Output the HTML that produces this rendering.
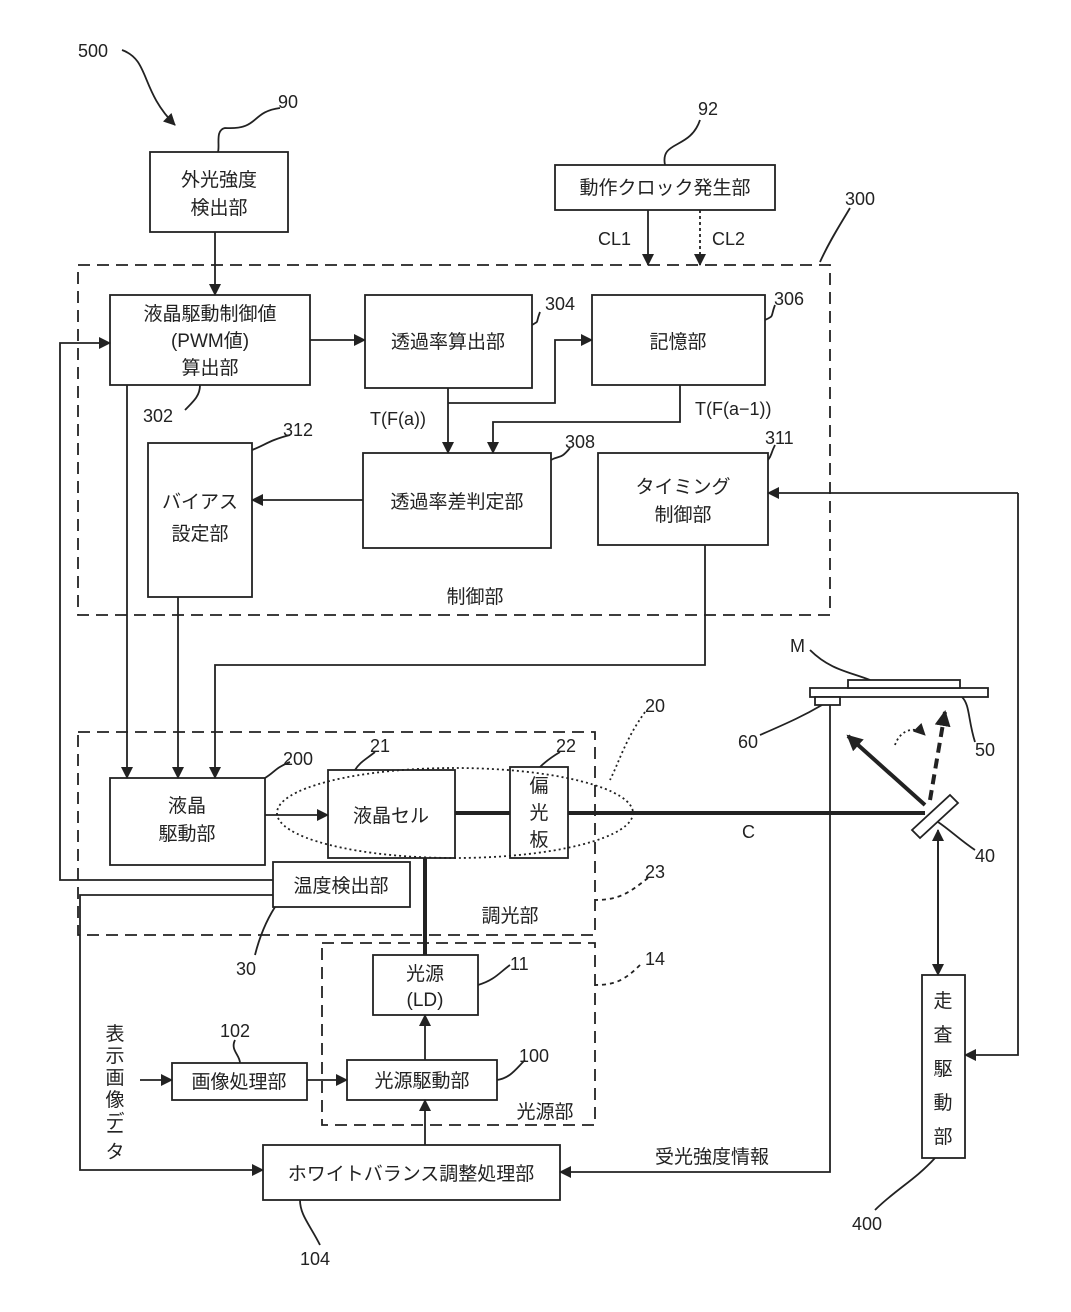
<!DOCTYPE html>
<html><head><meta charset="utf-8"><style>
body{margin:0;background:#fff}
svg text{font-family:"Liberation Sans","Noto Sans CJK JP",sans-serif;fill:#222}
</style></head><body>
<svg width="1071" height="1307" viewBox="0 0 1071 1307" xmlns="http://www.w3.org/2000/svg">
<defs>
<marker id="a" markerWidth="12" markerHeight="12" refX="11" refY="6" orient="auto" markerUnits="userSpaceOnUse"><path d="M0,0 L12,6 L0,12 z" fill="#222"/></marker>
<marker id="b" markerWidth="16" markerHeight="16" refX="14" refY="8" orient="auto" markerUnits="userSpaceOnUse"><path d="M0,0 L16,8 L0,16 z" fill="#222"/></marker>
</defs>
<g fill="none" stroke="#222" stroke-width="1.8">
<path d="M122,50 C150,60 140,90 175,125" marker-end="url(#a)"/>
<path d="M280,108 C250,112 260,130 225,128 C215,130 220,145 218,152"/>
<path d="M700,120 C690,150 660,140 665,165"/>
<path d="M850,208 C840,225 830,240 820,262"/>
<path d="M540,312 C535,325 540,320 532,325"/>
<path d="M775,305 C770,318 775,315 765,320"/>
<path d="M185,410 C195,400 200,395 200,385"/>
<path d="M570,448 C560,460 560,455 551,460"/>
<path d="M775,445 C770,455 772,455 768,460"/>
<path d="M290,435 C270,440 265,445 252,450"/>
<path d="M290,762 C275,768 275,772 265,778"/>
<path d="M375,752 C365,760 360,762 355,770"/>
<path d="M560,752 C550,758 545,762 540,767"/>
<path d="M645,712 C625,740 620,760 610,780" stroke-dasharray="2,3"/>
<path d="M648,878 C630,892 620,900 595,900" stroke-dasharray="4,4"/>
<path d="M255,955 C260,935 268,918 275,907"/>
<path d="M640,965 C625,980 615,985 595,985" stroke-dasharray="4,4"/>
<path d="M510,965 C500,972 495,980 478,985"/>
<path d="M525,1060 C515,1070 510,1078 497,1080"/>
<path d="M235,1040 C230,1050 240,1055 240,1063"/>
<path d="M320,1245 C310,1225 300,1215 300,1200"/>
<path d="M875,1210 C895,1190 915,1180 935,1158"/>
<path d="M810,650 C830,670 850,672 870,680"/>
<path d="M760,735 C790,722 805,715 822,705"/>
<path d="M975,742 C968,720 970,705 962,697"/>
<path d="M975,850 C960,840 950,830 938,822"/>
<rect x="78" y="265" width="752" height="350" stroke-dasharray="12,7"/>
<rect x="78" y="732" width="517" height="203" stroke-dasharray="12,7"/>
<rect x="322" y="943" width="273" height="182" stroke-dasharray="12,7"/>
<rect x="150" y="152" width="138" height="80"/>
<rect x="555" y="165" width="220" height="45"/>
<rect x="110" y="295" width="200" height="90"/>
<rect x="365" y="295" width="167" height="93"/>
<rect x="592" y="295" width="173" height="90"/>
<rect x="363" y="453" width="188" height="95"/>
<rect x="598" y="453" width="170" height="92"/>
<rect x="148" y="443" width="104" height="154"/>
<rect x="110" y="778" width="155" height="87"/>
<rect x="328" y="770" width="127" height="88"/>
<rect x="510" y="767" width="58" height="91"/>
<rect x="273" y="862" width="137" height="45"/>
<rect x="373" y="955" width="105" height="60"/>
<rect x="347" y="1060" width="150" height="40"/>
<rect x="172" y="1063" width="135" height="37"/>
<rect x="263" y="1145" width="297" height="55"/>
<rect x="922" y="975" width="43" height="183"/>
<ellipse cx="455" cy="813" rx="178" ry="45" stroke-dasharray="2,3"/>
<path d="M215,232 V295" marker-end="url(#a)"/>
<path d="M648,210 V265" marker-end="url(#a)"/>
<path d="M700,210 V265" stroke-dasharray="3,3" marker-end="url(#a)"/>
<path d="M310,340 H365" marker-end="url(#a)"/>
<path d="M448,388 V453" marker-end="url(#a)"/>
<path d="M448,403 H555 V340 H592" marker-end="url(#a)"/>
<path d="M680,385 V422 H493 V453" marker-end="url(#a)"/>
<path d="M363,500 H252" marker-end="url(#a)"/>
<path d="M1018,493 H768" marker-end="url(#a)"/>
<path d="M1018,493 V1055 H965" marker-end="url(#a)"/>
<path d="M705,545 V665 H215 V778" marker-end="url(#a)"/>
<path d="M178,597 V778" marker-end="url(#a)"/>
<path d="M127,385 V778" marker-end="url(#a)"/>
<path d="M273,880 H60 V343 H110" marker-end="url(#a)"/>
<path d="M273,895 H80 V1170 H263" marker-end="url(#a)"/>
<path d="M265,815 H328" marker-end="url(#a)"/>
<path d="M425,1060 V1015" marker-end="url(#a)"/>
<path d="M425,1145 V1100" marker-end="url(#a)"/>
<path d="M307,1080 H347" marker-end="url(#a)"/>
<path d="M140,1080 H172" marker-end="url(#a)"/>
<path d="M830,705 V1172 H560" marker-end="url(#a)"/>
<path d="M938,835 V975" marker-end="url(#a)"/>
<path d="M938,975 V830" marker-end="url(#a)"/>
<path d="M455,813 H510 M568,813 H925 M425,858 V955" stroke-width="4"/>
<path d="M925,805 L848,736" stroke-width="4" marker-end="url(#b)"/>
<path d="M930,800 L945,712" stroke-width="4" stroke-dasharray="10,6" marker-end="url(#b)"/>
<path d="M895,745 C900,730 915,725 925,735" stroke-dasharray="2,3" marker-end="url(#a)"/>
<path d="M912,830 L950,795 L958,803 L920,838 z" fill="#fff"/>
<rect x="810" y="688" width="178" height="9" fill="#fff"/>
<rect x="848" y="680" width="112" height="8" fill="#fff"/>
<rect x="815" y="697" width="25" height="8" fill="#fff"/>
</g>
<g font-size="18">
<text x="78" y="57">500</text><text x="278" y="108">90</text><text x="698" y="115">92</text>
<text x="845" y="205">300</text><text x="545" y="310">304</text><text x="774" y="305">306</text>
<text x="143" y="422">302</text><text x="565" y="448">308</text><text x="765" y="444">311</text>
<text x="283" y="436">312</text><text x="283" y="765">200</text><text x="370" y="752">21</text>
<text x="556" y="752">22</text><text x="645" y="712">20</text><text x="645" y="878">23</text>
<text x="236" y="975">30</text><text x="645" y="965">14</text><text x="510" y="970">11</text>
<text x="519" y="1062">100</text><text x="220" y="1037">102</text><text x="300" y="1265">104</text>
<text x="852" y="1230">400</text><text x="790" y="652">M</text><text x="738" y="748">60</text>
<text x="975" y="756">50</text><text x="975" y="862">40</text><text x="742" y="838">C</text>
<text x="598" y="245">CL1</text><text x="712" y="245">CL2</text>
<text x="370" y="425">T(F(a))</text><text x="695" y="415">T(F(a−1))</text>
</g>
<g font-size="19" text-anchor="middle">
<text x="219" y="186">外光強度</text><text x="219" y="214">検出部</text>
<text x="665" y="194">動作クロック発生部</text>
<text x="210" y="320">液晶駆動制御値</text><text x="210" y="347">(PWM値)</text><text x="210" y="374">算出部</text>
<text x="448" y="348">透過率算出部</text><text x="678" y="348">記憶部</text>
<text x="457" y="508">透過率差判定部</text>
<text x="683" y="493">タイミング</text><text x="683" y="521">制御部</text>
<text x="200" y="508">バイアス</text><text x="200" y="540">設定部</text>
<text x="475" y="603">制御部</text>
<text x="187" y="812">液晶</text><text x="187" y="840">駆動部</text>
<text x="391" y="822">液晶セル</text>
<text x="539" y="792">偏</text><text x="539" y="819">光</text><text x="539" y="846">板</text>
<text x="341" y="892">温度検出部</text><text x="510" y="922">調光部</text>
<text x="425" y="980">光源</text><text x="425" y="1006">(LD)</text>
<text x="422" y="1087">光源駆動部</text><text x="239" y="1088">画像処理部</text>
<text x="545" y="1118">光源部</text>
<text x="411" y="1180">ホワイトバランス調整処理部</text>
<text x="712" y="1163">受光強度情報</text>
<text x="943" y="1007">走</text><text x="943" y="1041">査</text><text x="943" y="1075">駆</text><text x="943" y="1109">動</text><text x="943" y="1143">部</text>
<text x="115" y="1040">表</text><text x="115" y="1062">示</text><text x="115" y="1084">画</text><text x="115" y="1106">像</text><text x="115" y="1128">デ</text><text x="115" y="1139">ー</text><text x="115" y="1158">タ</text>
</g>
</svg>
</body></html>
